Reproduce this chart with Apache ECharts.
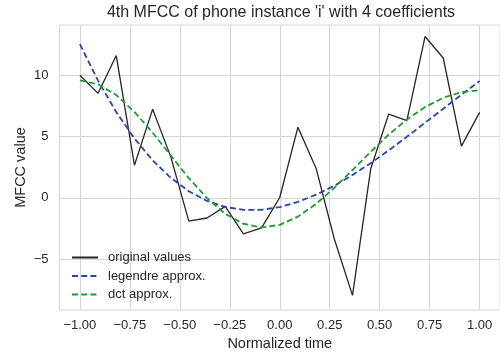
<!DOCTYPE html>
<html>
<head>
<meta charset="utf-8">
<script src="https://cdn.jsdelivr.net/npm/echarts@6/dist/echarts.min.js"></script>
<style>
html, body { margin: 0; padding: 0; background: #ffffff; }
#chart { width: 500px; height: 356px; }
</style>
</head>
<body>
<div id="chart"></div>
<script>
var times = [-1, -0.909, -0.818, -0.727, -0.636, -0.545, -0.455, -0.364, -0.273, -0.182, -0.091, 0, 0.091, 0.182, 0.273, 0.364, 0.455, 0.545, 0.636, 0.727, 0.818, 0.909, 1];
var originalValues = [10.0, 8.52, 11.6, 2.66, 7.23, 3.34, -1.9, -1.64, -0.69, -2.93, -2.44, 0.03, 5.76, 2.4, -3.35, -7.95, 2.35, 6.83, 6.29, 13.15, 11.4, 4.22, 6.97];
var legendreValues = [12.53, 9.55, 6.99, 4.84, 3.06, 1.63, 0.54, -0.25, -0.74, -0.98, -0.97, -0.75, -0.33, 0.26, 0.99, 1.86, 2.83, 3.87, 4.98, 6.12, 7.27, 8.41, 9.52];
var dctValues = [9.57, 9.26, 8.38, 7.01, 5.31, 3.44, 1.61, -0.02, -1.30, -2.11, -2.41, -2.20, -1.53, -0.49, 0.82, 2.27, 3.75, 5.15, 6.39, 7.40, 8.16, 8.62, 8.77];
var xTicks = [-1, -0.75, -0.5, -0.25, 0, 0.25, 0.5, 0.75, 1];
var yTicks = [-5, 0, 5, 10];

function pairs(xs, ys) { return xs.map(function (x, i) { return [x, ys[i]]; }); }
function fmtX(v) { var s = Math.abs(v).toFixed(2); return v < 0 ? '\u2212' + s : s; }
function fmtY(v) { return v < 0 ? '\u2212' + Math.abs(v) : String(v); }

var FONT = '"Liberation Sans", Arial, sans-serif';
var TXT = '#262626';
var GRID = '#d5d5d5';

var chart = echarts.init(document.getElementById('chart'), null, { renderer: 'canvas' });
chart.setOption({
  backgroundColor: '#ffffff',
  animation: false,
  textStyle: { fontFamily: FONT },
  title: {
    text: "4th MFCC of phone instance 'i' with 4 coefficients",
    left: 281, top: 5, padding: 0, textAlign: 'center',
    textStyle: { fontFamily: FONT, fontSize: 16, fontWeight: 'normal', color: TXT }
  },
  grid: { left: 59.5, top: 25, width: 444, height: 288, show: true, borderColor: GRID, borderWidth: 1, containLabel: false },
  legend: {
    orient: 'vertical', left: 71, top: 251, padding: 0,
    itemWidth: 26, itemHeight: 14, itemGap: 5.5,
    itemStyle: { opacity: 0 },
    textStyle: { fontFamily: FONT, fontSize: 13, color: TXT, padding: [0, 0, 0, 5] },
    data: ['original values', 'legendre approx.', 'dct approx.']
  },
  xAxis: {
    type: 'value', min: -1.102, max: 1.102,
    name: 'Normalized time', nameLocation: 'middle', nameGap: 26, nameMoveOverlap: false,
    nameTextStyle: { fontFamily: FONT, fontSize: 14.5, color: TXT },
    axisLine: { show: false },
    axisTick: { show: false, customValues: xTicks },
    axisLabel: { customValues: xTicks, formatter: fmtX, fontFamily: FONT, fontSize: 13, color: TXT, margin: 9 },
    splitLine: { show: true, lineStyle: { color: GRID, width: 1 } }
  },
  yAxis: {
    type: 'value', min: -9.14, max: 14.09,
    name: 'MFCC value', nameLocation: 'middle', nameGap: 31, nameMoveOverlap: false,
    nameTextStyle: { fontFamily: FONT, fontSize: 14.5, color: TXT },
    axisLine: { show: false },
    axisTick: { show: false, customValues: yTicks },
    axisLabel: { customValues: yTicks, formatter: fmtY, fontFamily: FONT, fontSize: 13, color: TXT, margin: 11 },
    splitLine: { show: true, lineStyle: { color: GRID, width: 1 } }
  },
  series: [
    { name: 'original values', type: 'line', data: pairs(times, originalValues), symbol: 'none',
      itemStyle: { color: '#262626' }, lineStyle: { color: '#262626', width: 1.3 } },
    { name: 'legendre approx.', type: 'line', data: pairs(times, legendreValues), symbol: 'none', smooth: false,
      itemStyle: { color: '#2a45a5' }, lineStyle: { color: '#2a45a5', width: 1.8, type: [6, 3.2] } },
    { name: 'dct approx.', type: 'line', data: pairs(times, dctValues), symbol: 'none', smooth: false,
      itemStyle: { color: '#229933' }, lineStyle: { color: '#229933', width: 1.8, type: [6, 3.2] } }
  ]
});
</script>
</body>
</html>
